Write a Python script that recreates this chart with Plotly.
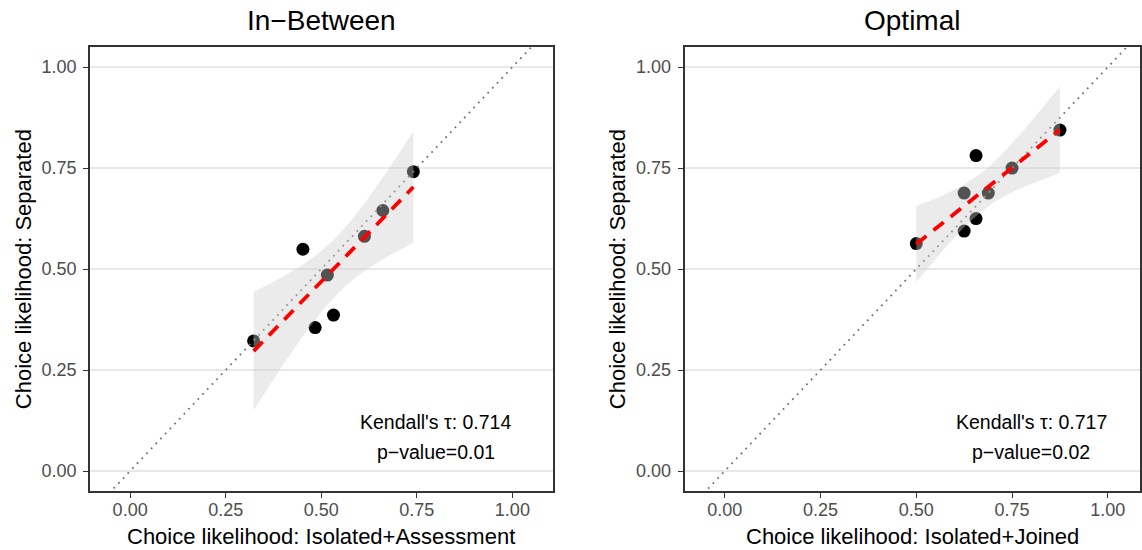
import numpy as np
import plotly.graph_objects as go

# ---------------- data ----------------
panel_titles = ["In\u2212Between", "Optimal"]
x_titles = ["Choice likelihood: Isolated+Assessment", "Choice likelihood: Isolated+Joined"]
y_title = "Choice likelihood: Separated"

x_between = [0.323, 0.452, 0.484, 0.532, 0.516, 0.613, 0.661, 0.741]
y_between = [0.322, 0.549, 0.355, 0.386, 0.485, 0.581, 0.645, 0.741]

x_optimal = [0.500, 0.625, 0.656, 0.688, 0.656, 0.625, 0.750, 0.875]
y_optimal = [0.563, 0.688, 0.781, 0.688, 0.625, 0.594, 0.750, 0.844]

kendall_tau = ["0.714", "0.717"]
p_values = ["0.01", "0.02"]

tick_vals = [0.0, 0.25, 0.5, 0.75, 1.0]
tick_text = ["0.00", "0.25", "0.50", "0.75", "1.00"]

T_975_DF6 = 2.4469  # t quantile for 95% CI, df = n - 2 = 6

FONT = "Liberation Sans, Arial, Helvetica, sans-serif"
W, H = 1142, 550

# panel geometry (pixels)
panels_px = [(90.0, 552.5), (684.5, 1140.0)]
top_px, bot_px = 47.3, 491.0
x_ranges = [[-0.105, 1.105], [-0.105, 1.084]]
y_range = [-0.0495, 1.049]


def smooth(x, y):
    x = np.asarray(x, float)
    y = np.asarray(y, float)
    n = len(x)
    b, a = np.polyfit(x, y, 1)
    grid = np.linspace(x.min(), x.max(), 80)
    fit = a + b * grid
    res = y - (a + b * x)
    s = np.sqrt(np.sum(res ** 2) / (n - 2))
    sxx = np.sum((x - x.mean()) ** 2)
    se = s * np.sqrt(1.0 / n + (grid - x.mean()) ** 2 / sxx)
    return grid, fit, fit - T_975_DF6 * se, fit + T_975_DF6 * se


fig = go.Figure()
datasets = [(x_between, y_between), (x_optimal, y_optimal)]

for i, (xs, ys) in enumerate(datasets):
    xa = "x" if i == 0 else "x2"
    ya = "y" if i == 0 else "y2"
    # points
    fig.add_trace(go.Scatter(x=xs, y=ys, mode="markers", xaxis=xa, yaxis=ya,
                             marker=dict(color="black", size=13, line=dict(width=0)),
                             showlegend=False, hoverinfo="skip"))
    # identity line
    ref = [-0.3, 1.3]
    fig.add_trace(go.Scatter(x=ref, y=ref, mode="lines", xaxis=xa, yaxis=ya,
                             line=dict(color="#737373", width=1.8, dash="1.8px,5px"),
                             showlegend=False, hoverinfo="skip"))
    grid, fit, lo, hi = smooth(xs, ys)
    # ribbon
    fig.add_trace(go.Scatter(x=np.concatenate([grid, grid[::-1]]),
                             y=np.concatenate([hi, lo[::-1]]),
                             mode="lines", fill="toself", xaxis=xa, yaxis=ya,
                             fillcolor="rgba(204,204,204,0.4)", line=dict(width=0),
                             showlegend=False, hoverinfo="skip"))
    # fitted line
    fig.add_trace(go.Scatter(x=grid, y=fit, mode="lines", xaxis=xa, yaxis=ya,
                             line=dict(color="#ff0000", width=3.8, dash="13px,9px"),
                             showlegend=False, hoverinfo="skip"))

axis_common = dict(showline=True, mirror=True, linecolor="#333333", linewidth=1.5,
                   ticks="outside", ticklen=5, tickwidth=1.3, tickcolor="#333333",
                   tickvals=tick_vals, ticktext=tick_text, zeroline=False,
                   tickfont=dict(family=FONT, size=18, color="#4d4d4d"),
                   fixedrange=True)

ydom = [(H - bot_px) / H, (H - top_px) / H]
layout = dict(width=W, height=H, margin=dict(l=0, r=0, t=0, b=0),
              paper_bgcolor="white", plot_bgcolor="white", showlegend=False,
              font=dict(family=FONT))

for i in range(2):
    sfx = "" if i == 0 else "2"
    xdom = [panels_px[i][0] / W, panels_px[i][1] / W]
    layout["xaxis" + sfx] = dict(axis_common, domain=xdom, range=x_ranges[i],
                                 showgrid=False, anchor="y" + sfx, ticklabelstandoff=-3)
    layout["yaxis" + sfx] = dict(axis_common, domain=ydom, range=y_range,
                                 showgrid=True, gridcolor="#e8e8e8", gridwidth=1.5,
                                 anchor="x" + sfx, ticklabelstandoff=3)

fig.update_layout(**layout)

annotations = []
for i in range(2):
    sfx = "" if i == 0 else "2"
    cx = (panels_px[i][0] + panels_px[i][1]) / 2 / W
    # panel title
    annotations.append(dict(text=panel_titles[i], x=cx, y=(H - 20) / H, xref="paper", yref="paper",
                            xanchor="center", yanchor="middle", showarrow=False,
                            font=dict(family=FONT, size=28, color="black")))
    # x axis title
    annotations.append(dict(text=x_titles[i], x=cx, y=(H - 536) / H, xref="paper", yref="paper",
                            xanchor="center", yanchor="middle", showarrow=False,
                            font=dict(family=FONT, size=22, color="black")))
    # y axis title
    yx = [23, 617][i]
    annotations.append(dict(text=y_title, x=yx / W, y=(H - (top_px + bot_px) / 2) / H,
                            xref="paper", yref="paper", textangle=-90,
                            xanchor="center", yanchor="middle", showarrow=False,
                            font=dict(family=FONT, size=22, color="black")))
    # Kendall annotation
    annotations.append(dict(text="Kendall's \u03c4: " + kendall_tau[i], x=0.8, y=0.121,
                            xref="x" + sfx, yref="y" + sfx, xanchor="center", yanchor="middle",
                            showarrow=False, font=dict(family=FONT, size=19.5, color="black")))
    annotations.append(dict(text="p\u2212value=" + p_values[i], x=0.8, y=0.048,
                            xref="x" + sfx, yref="y" + sfx, xanchor="center", yanchor="middle",
                            showarrow=False, font=dict(family=FONT, size=19.5, color="black")))

fig.update_layout(annotations=annotations)
fig.write_html("out.html")
